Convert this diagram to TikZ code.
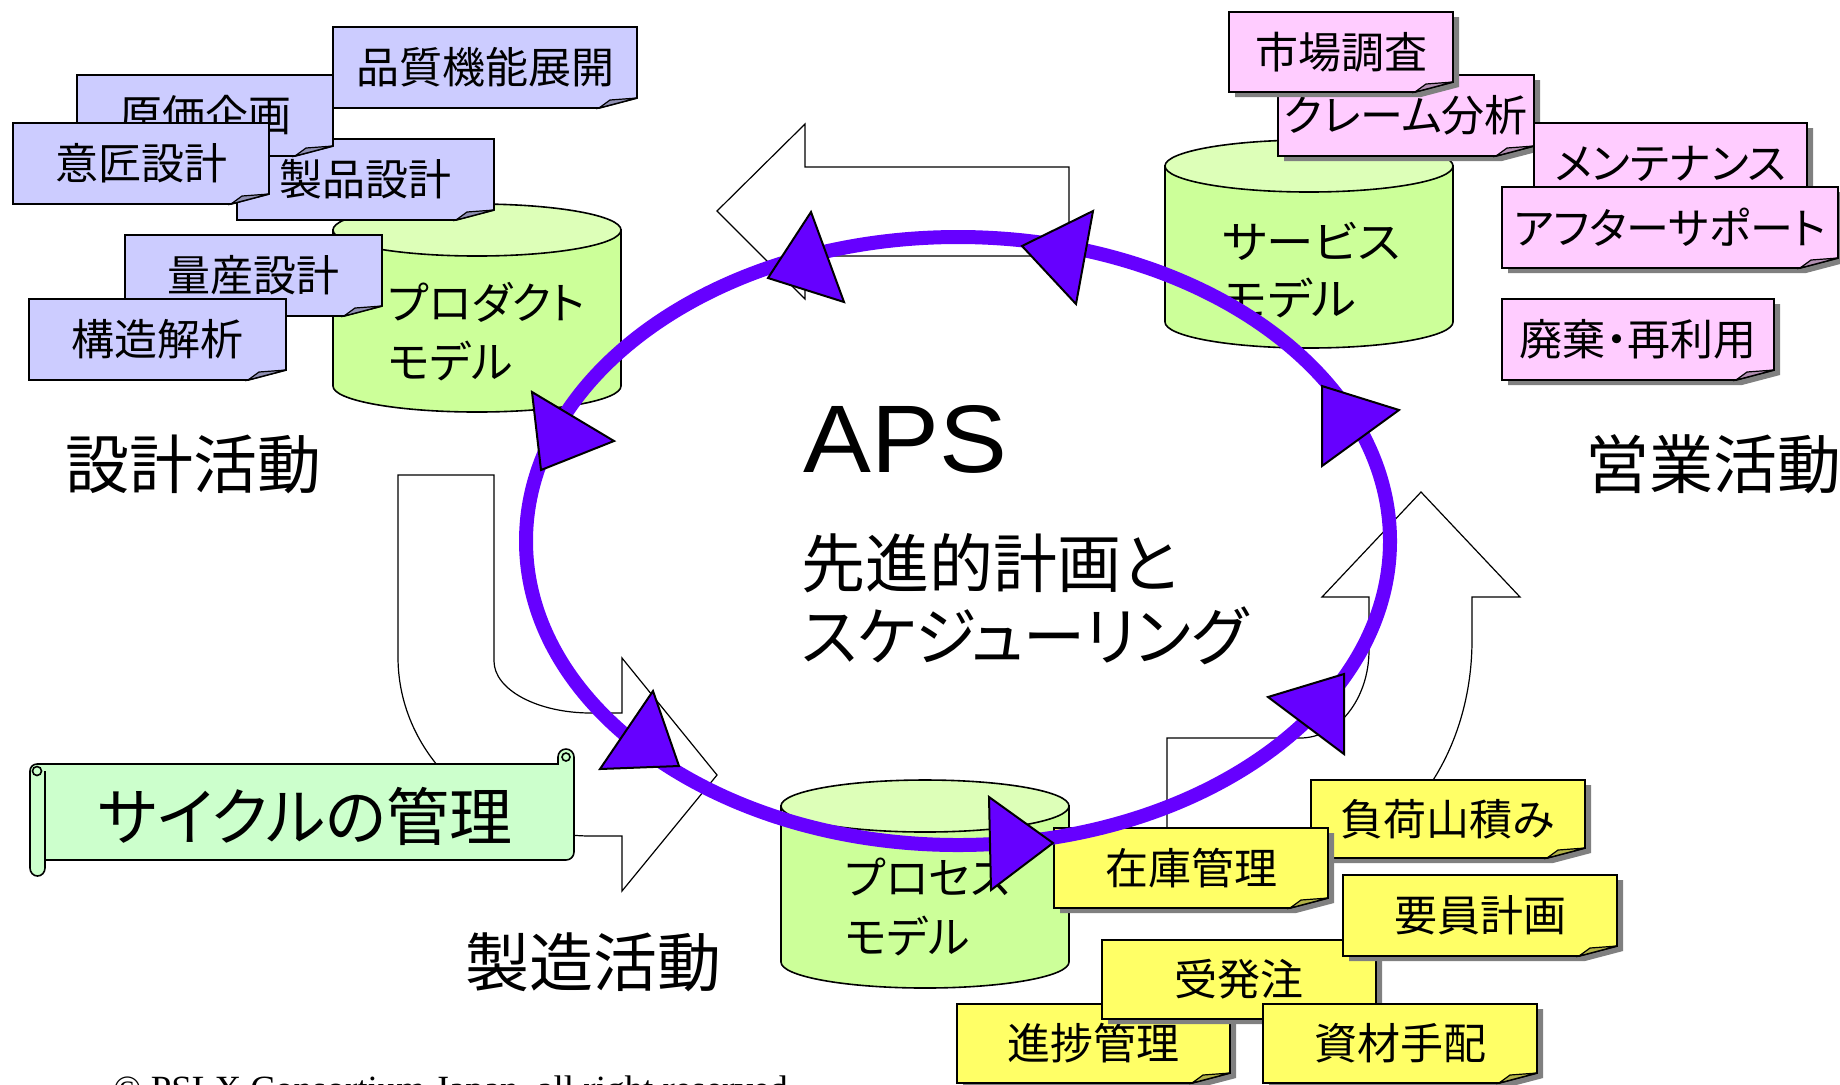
\documentclass[tikz,border=0pt]{standalone}
\usepackage{fontspec}
\setmainfont{Noto Sans CJK JP}[RawFeature=+palt]
\newfontfamily\sansen{Liberation Sans}
\newfontfamily\serifen{Liberation Serif}
\definecolor{notelav}{HTML}{CCCCFF}
\definecolor{notepink}{HTML}{FFCCFF}
\definecolor{noteyel}{HTML}{FFFF66}
\definecolor{cylgreen}{HTML}{CCFF99}
\definecolor{cyltop}{HTML}{DDFFB8}
\definecolor{scrollgreen}{HTML}{CCFFCC}
\definecolor{ringpurple}{HTML}{6600FF}
\definecolor{shadowgray}{HTML}{808080}
\tikzset{
  boxline/.style={draw=black, line width=0.9pt, line join=miter},
  flapline/.style={draw=black, line width=0.6pt},
  notetxt/.style={font=\fontsize{21.5}{26}\selectfont, inner sep=0pt},
  cyltxt/.style={font=\fontsize{22}{26}\selectfont, inner sep=0pt, anchor=west},
  bigtxt/.style={font=\fontsize{32}{38}\selectfont, inner sep=0pt},
  scrolltxt/.style={font=\fontsize{31.5}{38}\selectfont, inner sep=0pt},
  apstxt/.style={font=\sansen\fontsize{48}{56}\selectfont, inner sep=0pt},
  copytxt/.style={font=\serifen\fontsize{18.5}{22}\selectfont, inner sep=0pt},
  cylline/.style={draw=black, line width=0.8pt},
  blockarrow/.style={draw=black, fill=white, line width=0.6pt},
  ringline/.style={draw=ringpurple, line width=7pt},
  ahead/.style={draw=black, fill=ringpurple, line width=1pt, line join=miter},
  scrollline/.style={draw=black, line width=0.8pt},
}
% folded-corner note: #1 name, #2 x1, #3 y1, #4 x2, #5 y2, #6 fill, #7 text
\newcommand\foldbox[7]{%
  \filldraw[boxline, fill=#6] (#2,#3) -- (#4,#3) -- (#4,{#5-10}) -- ({#4-38},#5) -- (#2,#5) -- cycle;
  \filldraw[flapline, fill=#6!70!black] ({#4-38},#5) -- ({#4-27},{#5-8}) -- (#4,{#5-10}) -- cycle;
  \node[notetxt] (#1) at ({(#2+#4)/2},{(#3+#5)/2}) {#7};
}
\newcommand\shadowfoldbox[7]{%
  \fill[shadowgray] ({#2+6},{#3+5}) -- ({#4+6},{#3+5}) -- ({#4+6},{#5-5}) -- ({#4-32},{#5+5}) -- ({#2+6},{#5+5}) -- cycle;
  \foldbox{#1}{#2}{#3}{#4}{#5}{#6}{#7}%
}
% cylinder: #1 name, #2 x1, #3 x2, #4 top centre y, #5 bottom centre y
\newcommand\cylshape[5]{%
  \filldraw[cylline, fill=cylgreen] (#2,#4) -- (#2,#5) arc[start angle=180, end angle=0, x radius={(#3-#2)/2}, y radius=26] -- (#3,#4) -- cycle;
  \filldraw[cylline, fill=cyltop] ({(#2+#3)/2},#4) ellipse[x radius={(#3-#2)/2}, y radius=26];
  \coordinate (#1) at ({(#2+#3)/2},{(#4+#5)/2});
}
\begin{document}
\begin{tikzpicture}[x=0.5pt, y=-0.5pt]
\useasboundingbox (0,0) rectangle (1840,1084);
\fill[white] (0,0) rectangle (1840,1084);

% block arrows
\filldraw[blockarrow] (717,211) -- (805,124) -- (805,167) -- (1069,167) -- (1069,256) -- (805,256) -- (805,299) -- cycle;
\filldraw[blockarrow] (398,475) -- (494,475) -- (494,661) arc[start angle=180,end angle=90,x radius=97,y radius=52] -- (622,713) -- (622,658) -- (717,775) -- (622,891) -- (622,836) -- (591,836) arc[start angle=90,end angle=180,x radius=193,y radius=179] -- cycle;
\filldraw[blockarrow] (1421,492) -- (1520,597) -- (1472,597) -- (1472,640) arc[start angle=0,end angle=90,x radius=172,y radius=221] -- (1167,861) -- (1167,738) -- (1300,738) arc[start angle=90,end angle=0,x radius=69,y radius=88] -- (1369,597) -- (1322,597) -- cycle;

% product model
\cylshape{prodcyl}{333}{621}{230}{386}
\foldbox{seihin}{237}{139}{494}{220}{notelav}{製品設計}
\foldbox{genka}{77}{75}{333}{156}{notelav}{原価企画}
\foldbox{isho}{13}{123}{269}{204}{notelav}{意匠設計}
\foldbox{hinshitsu}{333}{27}{637}{108}{notelav}{品質機能展開}
\foldbox{ryosan}{125}{235}{382}{316}{notelav}{量産設計}
\foldbox{kozo}{29}{299}{286}{380}{notelav}{構造解析}
\node[cyltxt] (prodt1) at (388,302) {プロダクト};
\node[cyltxt] (prodt2) at (388,361) {モデル};

% service model
\cylshape{servcyl}{1165}{1453}{166}{322}
\shadowfoldbox{claim}{1278}{75}{1534}{156}{notepink}{クレーム分析}
\shadowfoldbox{shijo}{1229}{12}{1453}{92}{notepink}{市場調査}
\shadowfoldbox{maint}{1534}{123}{1807}{204}{notepink}{メンテナンス}
\shadowfoldbox{after}{1502}{187}{1838}{268}{notepink}{アフターサポート}
\shadowfoldbox{haiki}{1502}{299}{1774}{380}{notepink}{廃棄・再利用}
\node[cyltxt, xscale=1.08] (servt1) at (1222,241) {サービス};
\node[cyltxt, xscale=1.08] (servt2) at (1222,298) {モデル};

% process model
\cylshape{proccyl}{781}{1069}{806}{962}
\node[cyltxt] (proct1) at (845,877) {プロセス};
\node[cyltxt] (proct2) at (845,936) {モデル};
\shadowfoldbox{fuka}{1311}{780}{1585}{858}{noteyel}{負荷山積み}
\shadowfoldbox{zaiko}{1054}{828}{1328}{908}{noteyel}{在庫管理}
\shadowfoldbox{shinchoku}{957}{1004}{1230}{1083}{noteyel}{進捗管理}
\shadowfoldbox{juhacchu}{1102}{940}{1376}{1019}{noteyel}{受発注}
\shadowfoldbox{yoin}{1343}{875}{1617}{956}{noteyel}{要員計画}
\shadowfoldbox{shizai}{1263}{1004}{1537}{1083}{noteyel}{資材手配}

% scroll
\filldraw[scrollline, fill=scrollgreen] (30,771) -- (30,868) arc[start angle=180,end angle=0,x radius=7.5,y radius=8] -- (45,860) -- (566,860) arc[start angle=90,end angle=0,radius=8] -- (574,757) arc[start angle=0,end angle=-180,radius=8] -- (558,764) -- (37,764) arc[start angle=-90,end angle=-180,radius=7] -- cycle;
\draw[scrollline] (45,771) -- (45,868);
\draw[scrollline] (37,771) circle[radius=4.5];
\draw[scrollline] (566,757) circle[radius=4];
\node[scrolltxt] (cycle) at (305,816) {サイクルの管理};

% labels
\node[bigtxt] (sekkei) at (193,464) {設計活動};
\node[bigtxt] (eigyo) at (1713,464) {営業活動};
\node[bigtxt] (seizo) at (593,962) {製造活動};
\node[apstxt, anchor=base west, xscale=1.06] (aps) at (803,472) {APS};
\node[bigtxt, anchor=west] (senshin) at (801,563) {先進的計画と};
\node[bigtxt, anchor=west, xscale=0.97] (sched) at (801,636) {スケジューリング};

% cycle ring
\draw[ringline] (958,541) ellipse[x radius=432, y radius=304];
\filldraw[ahead] (532,392) -- (614,441) -- (541,470) -- cycle;
\filldraw[ahead] (811,212) -- (844,302) -- (768,278) -- cycle;
\filldraw[ahead] (1093,211) -- (1076,304) -- (1022,246) -- cycle;
\filldraw[ahead] (1322,386) -- (1399,410) -- (1322,466) -- cycle;
\filldraw[ahead] (1268,697) -- (1344,674) -- (1344,754) -- cycle;
\filldraw[ahead] (989,797) -- (1053,843) -- (991,890) -- cycle;
\filldraw[ahead] (653,691) -- (679,766) -- (600,769) -- cycle;

% copyright (cut at the lower edge, as in the reference)
\begin{scope}
\clip (0,0) rectangle (1840,1084);
\node[copytxt, anchor=base west] (copyr) at (113,1101) {© PSLX Consortium Japan, all right reserved};
\end{scope}
\end{tikzpicture}
\end{document}
